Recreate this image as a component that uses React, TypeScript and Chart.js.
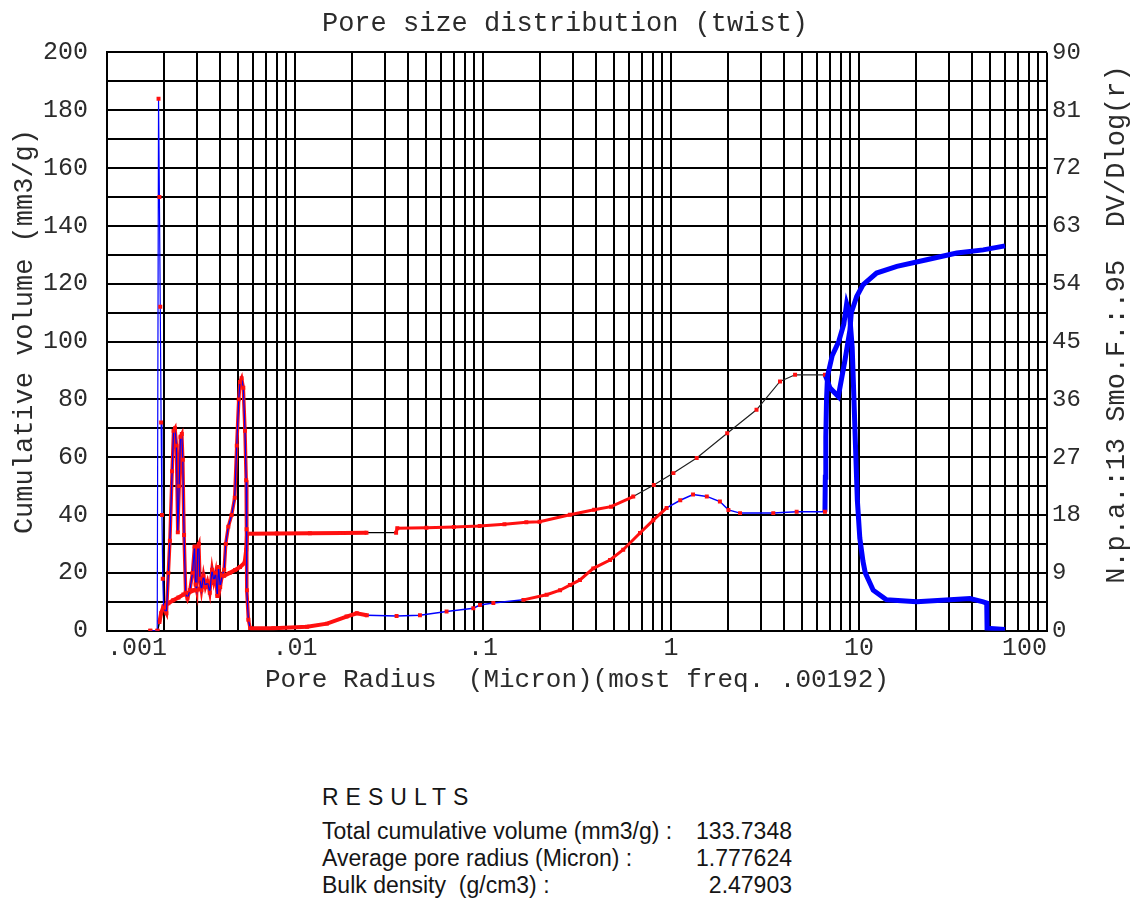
import React, { useEffect, useRef } from 'react';
import { Chart, registerables } from 'chart.js';

Chart.register(...registerables);

// ---------- data ----------
const CHART_TITLE = 'Pore size distribution (twist)';
const X_TITLE = 'Pore Radius  (Micron)(most freq. .00192)';
const LEFT_TITLE = 'Cumulative volume (mm3/g)';
const RIGHT_TITLE = 'N.p.a.:13 Smo.F.:.95  DV/Dlog(r)';

const X_DECADES = [0.001, 0.01, 0.1, 1, 10, 100];
const X_TICK_LABELS = ['.001', '.01', '.1', '1', '10', '100'];
const X_MULTIPLES = [1, 2, 3, 4, 5, 6, 7, 8, 9];

const LEFT_MIN = 0;
const LEFT_MAX = 200;
const LEFT_GRID_STEP = 10;
const LEFT_LABEL_STEP = 20;
const RIGHT_MIN = 0;
const RIGHT_MAX = 90;
const RIGHT_STEP = 9;

// Cumulative volume (mm3/g) vs pore radius (micron)
const CUM_R = [
  0.0017, 0.00186, 0.0019, 0.00194, 0.002, 0.00212, 0.00225, 0.0024, 0.00255, 0.0027,
  0.0029, 0.0031, 0.0033, 0.0036, 0.0039, 0.0042, 0.0045, 0.0048, 0.0051, 0.0054,
  0.0055, 0.00556, 0.008, 0.012, 0.018, 0.024, 0.0345, 0.035, 0.05, 0.07,
  0.096, 0.13, 0.17, 0.2, 0.29, 0.39, 0.48, 0.63, 0.81, 1.03,
  1.37, 1.99, 2.85, 3.8, 4.57, 6.59, 6.75, 7.0, 7.76, 8.43,
  8.95, 9.1, 9.72, 10.5, 12.4, 15.9, 22.9, 33.1, 45.8, 59.8,
];
const CUM_V = [
  0, 0, 3, 6, 8.5, 9.5, 10.5, 11.5, 12.5, 13,
  14, 14.5, 15.5, 16.5, 18, 19, 20, 21, 22, 23.5,
  28, 33.5, 33.6, 33.7, 33.8, 33.9, 33.9, 35.4, 35.6, 35.9,
  36.2, 36.8, 37.5, 37.7, 40.1, 41.8, 42.9, 46.4, 50.4, 54.5,
  59.7, 68.3, 76.4, 86.2, 88.5, 88.5, 87, 84, 81, 93.7,
  104, 110, 115.6, 119.6, 123.7, 126, 128.3, 130.6, 131.7, 133.1,
];

// DV/Dlog(r) vs pore radius (micron)
const DIST_R = [
  0.0017, 0.00185, 0.00188, 0.0019, 0.00192, 0.00194, 0.00196, 0.00198, 0.002, 0.00207,
  0.00212, 0.00216, 0.00222, 0.00226, 0.0023, 0.00234, 0.00238, 0.00242, 0.00246, 0.0025,
  0.00253, 0.00257, 0.00262, 0.00268, 0.00276, 0.00285, 0.00292, 0.00296, 0.003, 0.00304,
  0.00308, 0.00312, 0.00318, 0.00326, 0.00334, 0.00342, 0.00352, 0.00362, 0.0037, 0.00378,
  0.00386, 0.00392, 0.004, 0.0041, 0.0042, 0.00428, 0.00442, 0.0046, 0.00478, 0.0049,
  0.00502, 0.0051, 0.0052, 0.00531, 0.00542, 0.0055, 0.00553, 0.00555, 0.00565, 0.00577,
  0.00767, 0.0116, 0.0148, 0.0188, 0.0213, 0.0241, 0.0347, 0.0462, 0.064, 0.0888,
  0.0964, 0.1135, 0.164, 0.218, 0.257, 0.29, 0.328, 0.386, 0.474, 0.557,
  0.684, 0.805, 0.948, 1.12, 1.31, 1.55, 1.82, 2.02, 2.33, 3.5,
  4.66, 6.59, 6.62, 6.66, 6.72, 6.8, 7.2, 7.8, 8.3, 8.6,
  8.9, 9.2, 9.4, 9.6, 9.8, 10.1, 10.5, 10.8, 11.9, 14.0,
  20.3, 30.5, 38.9, 45.8, 47.8, 48.0, 59.8,
];
const DIST_V = [
  0, 0, 82.8, 67.5, 50.4, 32.4, 18.0, 8.1, 3.6, 2.7,
  9.0, 14.0, 24.8, 31.1, 31.5, 28.8, 15.3, 22.5, 30.2, 30.6,
  26.6, 14.9, 5.9, 5.0, 6.3, 9.0, 13.1, 7.2, 6.3, 13.1,
  13.5, 8.1, 6.3, 8.6, 6.8, 7.7, 5.9, 9.5, 7.7, 9.0,
  5.4, 9.9, 6.8, 8.6, 9.5, 13.5, 16.2, 18.0, 20.7, 28.8,
  36.0, 38.7, 39.3, 37.8, 31.1, 23.4, 15.8, 6.3, 1.7, 0.4,
  0.4, 0.6, 1.1, 2.2, 2.7, 2.4, 2.3, 2.4, 3.0, 3.5,
  4.0, 4.3, 4.8, 5.6, 6.3, 7.1, 7.9, 9.7, 11.0, 12.6,
  15.2, 17.2, 19.1, 20.3, 21.2, 20.9, 20.1, 18.8, 18.3, 18.3,
  18.5, 18.5, 23.9, 30.2, 36.0, 39.6, 42.8, 45.0, 47.7, 50.9,
  49.5, 44.1, 36.0, 27.9, 20.3, 14.4, 10.8, 9.0, 6.3, 4.8,
  4.5, 4.8, 5.0, 4.5, 4.3, 0.4, 0.2,
];

const RESULT_HEADING = 'RESULTS';
const RESULT_LABELS = [
  'Total cumulative volume (mm3/g) :',
  'Average pore radius (Micron) :',
  'Bulk density  (g/cm3) :',
];
const RESULT_VALUES = ['133.7348', '1.777624', '2.47903'];

// ---------- styling ----------
const MONO = '"Liberation Mono", "Courier New", monospace';
const TEXT = '#2b2b2b';
const RED = '#ff1010';
const BLUE = '#0000ff';
const GRID = '#000000';
const NONE = 'rgba(0,0,0,0)';

type Rule = [number, string, number];
const CUM_RULES: Rule[] = [
  [0.00192, '#000000', 1.5],
  [0.0242, RED, 4],
  [0.0349, '#000000', 1.2],
  [0.72, RED, 3],
  [6.6, '#222222', 1.2],
  [Infinity, BLUE, 5],
];
const DIST_RULES: Rule[] = [
  [0.00578, BLUE, 1.2],
  [0.0242, RED, 4],
  [0.2, BLUE, 1.5],
  [1.0, RED, 3],
  [6.6, BLUE, 1.5],
  [Infinity, BLUE, 5],
];
// red halo drawn under the thin blue line where the reference dots are dense
const DIST_HALO_RULES: Rule[] = [
  [0.00201, NONE, 1],
  [0.00578, RED, 3.5],
  [Infinity, NONE, 1],
];
const pick = (rules: Rule[], x: number): Rule => rules.find((r) => x <= r[0]) || rules[rules.length - 1];

const CANVAS_W = 1130;
const CANVAS_H = 720;

const verticalTitles = {
  id: 'verticalTitles',
  afterDraw(chart: any) {
    const { ctx, chartArea } = chart;
    const midY = (chartArea.top + chartArea.bottom) / 2;
    ctx.save();
    ctx.fillStyle = TEXT;
    ctx.font = `27px ${MONO}`;
    ctx.textAlign = 'center';
    ctx.textBaseline = 'middle';
    ctx.translate(chartArea.left - 82, midY - 10);
    ctx.rotate(-Math.PI / 2);
    ctx.fillText(LEFT_TITLE, 0, 0);
    ctx.restore();
    ctx.save();
    ctx.fillStyle = TEXT;
    ctx.font = `27px ${MONO}`;
    ctx.textAlign = 'center';
    ctx.textBaseline = 'middle';
    ctx.translate(chartArea.right + 70, midY - 17);
    ctx.rotate(-Math.PI / 2);
    ctx.fillText(RIGHT_TITLE, 0, 0);
    ctx.restore();
  },
};

export default function App() {
  const ref = useRef<HTMLCanvasElement>(null);

  useEffect(() => {
    const cumData = CUM_R.map((r, i) => ({ x: r, y: CUM_V[i] }));
    const distData = DIST_R.map((r, i) => ({ x: r, y: DIST_V[i] }));
    const pointRadius = (c: any) => (c.raw && c.raw.x <= 6.6 ? 2.8 : 0);

    const chart = new Chart(ref.current as HTMLCanvasElement, {
      type: 'line',
      data: {
        datasets: [
          {
            label: 'DV/Dlog(r)',
            data: distData,
            yAxisID: 'yR',
            order: 0,
            borderColor: BLUE,
            borderWidth: 1.5,
            pointStyle: 'rect',
            pointRadius,
            pointBackgroundColor: RED,
            pointBorderWidth: 0,
            tension: 0,
            segment: {
              borderColor: (c: any) => pick(DIST_RULES, c.p1.parsed.x)[1],
              borderWidth: (c: any) => pick(DIST_RULES, c.p1.parsed.x)[2],
            },
          } as any,
          {
            label: 'Cumulative volume',
            data: cumData,
            yAxisID: 'yL',
            order: 1,
            borderColor: '#000',
            borderWidth: 1.2,
            pointStyle: 'rect',
            pointRadius,
            pointBackgroundColor: RED,
            pointBorderWidth: 0,
            tension: 0,
            segment: {
              borderColor: (c: any) => pick(CUM_RULES, c.p1.parsed.x)[1],
              borderWidth: (c: any) => pick(CUM_RULES, c.p1.parsed.x)[2],
            },
          } as any,
          {
            label: 'DV/Dlog(r) halo',
            data: distData,
            yAxisID: 'yR',
            order: 2,
            borderColor: NONE,
            borderWidth: 1,
            pointRadius: 0,
            tension: 0,
            segment: {
              borderColor: (c: any) => pick(DIST_HALO_RULES, c.p1.parsed.x)[1],
              borderWidth: (c: any) => pick(DIST_HALO_RULES, c.p1.parsed.x)[2],
            },
          } as any,
        ],
      },
      options: {
        responsive: false,
        devicePixelRatio: 1,
        animation: false,
        events: [],
        layout: { padding: 0 },
        plugins: {
          legend: { display: false },
          tooltip: { enabled: false },
          title: {
            display: true,
            text: CHART_TITLE,
            color: TEXT,
            font: { family: MONO, size: 27, weight: 'normal' },
            padding: { top: 8, bottom: 12 },
          },
        },
        scales: {
          x: {
            type: 'logarithmic',
            min: X_DECADES[0],
            max: X_DECADES[X_DECADES.length - 1],
            afterBuildTicks: (scale: any) => {
              const ticks: { value: number }[] = [];
              for (let d = 0; d < X_DECADES.length - 1; d++) {
                for (const m of X_MULTIPLES) ticks.push({ value: X_DECADES[d] * m });
              }
              ticks.push({ value: X_DECADES[X_DECADES.length - 1] });
              scale.ticks = ticks;
            },
            afterFit: (scale: any) => {
              scale.height = CANVAS_H - 630.7;
            },
            ticks: {
              autoSkip: false,
              maxRotation: 0,
              minRotation: 0,
              align: 'inner',
              padding: 3,
              color: TEXT,
              font: { family: MONO, size: 25 },
              callback: (value: any) => {
                const i = X_DECADES.indexOf(Number(value));
                return i >= 0 ? X_TICK_LABELS[i] : '';
              },
            },
            grid: { color: GRID, lineWidth: 2, drawTicks: false },
            border: { display: true, color: GRID, width: 2 },
            title: {
              display: true,
              text: X_TITLE,
              color: TEXT,
              font: { family: MONO, size: 26 },
              padding: { top: 0, bottom: 24 },
            },
          },
          yL: {
            type: 'linear',
            position: 'left',
            min: LEFT_MIN,
            max: LEFT_MAX,
            afterFit: (scale: any) => {
              scale.width = 107;
            },
            ticks: {
              stepSize: LEFT_GRID_STEP,
              maxTicksLimit: 100,
              autoSkip: false,
              padding: 19,
              color: TEXT,
              font: { family: MONO, size: 25 },
              callback: (value: any) => (Number(value) % LEFT_LABEL_STEP === 0 ? String(value) : ''),
            },
            grid: { color: GRID, lineWidth: 2, drawTicks: false },
            border: { display: true, color: GRID, width: 2 },
          },
          yR: {
            type: 'linear',
            position: 'right',
            min: RIGHT_MIN,
            max: RIGHT_MAX,
            afterFit: (scale: any) => {
              scale.width = CANVAS_W - 1047;
            },
            ticks: {
              stepSize: RIGHT_STEP,
              maxTicksLimit: 100,
              padding: 5,
              color: TEXT,
              font: { family: MONO, size: 24 },
            },
            grid: { display: false, drawTicks: false },
            border: { display: false },
          },
        },
      } as any,
      plugins: [verticalTitles],
    });
    return () => chart.destroy();
  }, []);

  return (
    <div style={{ position: 'absolute', left: 0, top: 0, width: CANVAS_W, height: 904, background: '#fff', overflow: 'hidden' }}>
      <canvas
        ref={ref}
        width={CANVAS_W}
        height={CANVAS_H}
        style={{ position: 'absolute', left: 0, top: 0, width: CANVAS_W, height: CANVAS_H }}
      />
      <div
        style={{
          position: 'absolute',
          left: 322,
          top: 783.5,
          width: 470,
          fontFamily: '"Liberation Sans", Arial, sans-serif',
          fontSize: 23,
          lineHeight: '27px',
          color: '#151515',
        }}
      >
        <div style={{ letterSpacing: 7, marginBottom: 7 }}>{RESULT_HEADING}</div>
        {RESULT_LABELS.map((label, i) => (
          <div key={label} style={{ display: 'flex', justifyContent: 'space-between', whiteSpace: 'pre' }}>
            <span>{label}</span>
            <span>{RESULT_VALUES[i]}</span>
          </div>
        ))}
      </div>
    </div>
  );
}
